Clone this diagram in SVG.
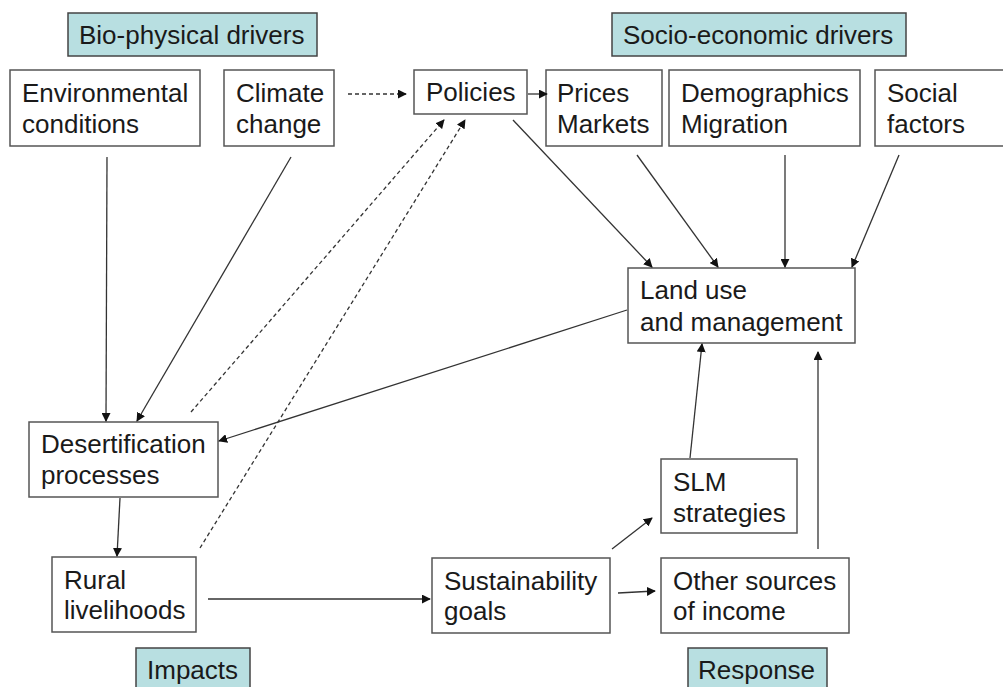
<svg xmlns="http://www.w3.org/2000/svg" width="1003" height="687" viewBox="0 0 1003 687">
  <style>
    .node rect { fill: #ffffff; stroke: #555555; stroke-width: 1.5; }
    .hdr rect { fill: #b8dfe1; stroke: #444444; stroke-width: 1.5; }
    text { font-family: "Liberation Sans", Arial, sans-serif; font-size: 26px; fill: #1a1a1a; }
    .edge { stroke: #333333; stroke-width: 1.3; fill: none; marker-end: url(#arrow); }
    .dash { stroke-dasharray: 4 3; }
  </style>
  <defs>
    <marker id="arrow" viewBox="0 0 10 10" refX="9" refY="5" markerWidth="9" markerHeight="9" markerUnits="userSpaceOnUse" orient="auto">
      <path d="M0,0 L10,5 L0,10 z" fill="#111111"/>
    </marker>
  </defs>

  <!-- category headers -->
  <g id="hdr-biophysical" class="hdr"><rect x="68" y="13" width="249" height="43"/><text x="79" y="44">Bio-physical drivers</text></g>
  <g id="hdr-socioeconomic" class="hdr"><rect x="612" y="13" width="294" height="43"/><text x="623" y="44">Socio-economic drivers</text></g>
  <g id="hdr-impacts" class="hdr"><rect x="136" y="648" width="114" height="45"/><text x="147" y="679">Impacts</text></g>
  <g id="hdr-response" class="hdr"><rect x="688" y="648" width="139" height="45"/><text x="698" y="679">Response</text></g>

  <!-- driver nodes -->
  <g id="environmental" class="node"><rect x="10" y="70" width="190" height="76"/><text x="22" y="102">Environmental</text><text x="22" y="133">conditions</text></g>
  <g id="climate" class="node"><rect x="224" y="70" width="110" height="76"/><text x="236" y="102">Climate</text><text x="236" y="133">change</text></g>
  <g id="policies" class="node"><rect x="414" y="70" width="113" height="44"/><text x="426" y="101">Policies</text></g>
  <g id="prices" class="node"><rect x="546" y="70" width="116" height="76"/><text x="557" y="102">Prices</text><text x="557" y="133">Markets</text></g>
  <g id="demographics" class="node"><rect x="669" y="70" width="191" height="76"/><text x="681" y="102">Demographics</text><text x="681" y="133">Migration</text></g>
  <g id="social" class="node"><rect x="875" y="70" width="140" height="76"/><text x="887" y="102">Social</text><text x="887" y="133">factors</text></g>

  <!-- process nodes -->
  <g id="landuse" class="node"><rect x="628" y="268" width="227" height="75"/><text x="640" y="299">Land use</text><text x="640" y="331">and management</text></g>
  <g id="desertification" class="node"><rect x="29" y="422" width="189" height="75"/><text x="41" y="453">Desertification</text><text x="41" y="484">processes</text></g>
  <g id="rural" class="node"><rect x="52" y="557" width="144" height="75"/><text x="64" y="589">Rural</text><text x="64" y="619">livelihoods</text></g>
  <g id="sustainability" class="node"><rect x="432" y="558" width="178" height="75"/><text x="444" y="590">Sustainability</text><text x="444" y="620">goals</text></g>
  <g id="slm" class="node"><rect x="661" y="459" width="136" height="74"/><text x="673" y="491">SLM</text><text x="673" y="522">strategies</text></g>
  <g id="othersources" class="node"><rect x="661" y="558" width="188" height="75"/><text x="673" y="590">Other sources</text><text x="673" y="620">of income</text></g>

  <!-- connectors -->
  <g id="connectors">
    <line class="edge dash" x1="348" y1="94" x2="406" y2="94"/>
    <line class="edge" x1="528" y1="94" x2="547" y2="94"/>
    <line class="edge" x1="107" y1="157" x2="106" y2="421"/>
    <line class="edge" x1="291" y1="157" x2="137" y2="421"/>
    <line class="edge" x1="513" y1="120" x2="652" y2="267"/>
    <line class="edge" x1="637" y1="155" x2="718" y2="267"/>
    <line class="edge" x1="785" y1="155" x2="785" y2="267"/>
    <line class="edge" x1="899" y1="155" x2="852" y2="267"/>
    <line class="edge" x1="627" y1="310" x2="219" y2="441"/>
    <line class="edge dash" x1="191" y1="412" x2="444" y2="120"/>
    <line class="edge dash" x1="200" y1="548" x2="465" y2="120"/>
    <line class="edge" x1="120" y1="498" x2="117" y2="556"/>
    <line class="edge" x1="208" y1="599" x2="430" y2="599"/>
    <line class="edge" x1="612" y1="549" x2="652" y2="518"/>
    <line class="edge" x1="618" y1="593" x2="655" y2="591"/>
    <line class="edge" x1="690" y1="458" x2="702" y2="344"/>
    <line class="edge" x1="818" y1="549" x2="818" y2="352"/>
  </g>
</svg>
